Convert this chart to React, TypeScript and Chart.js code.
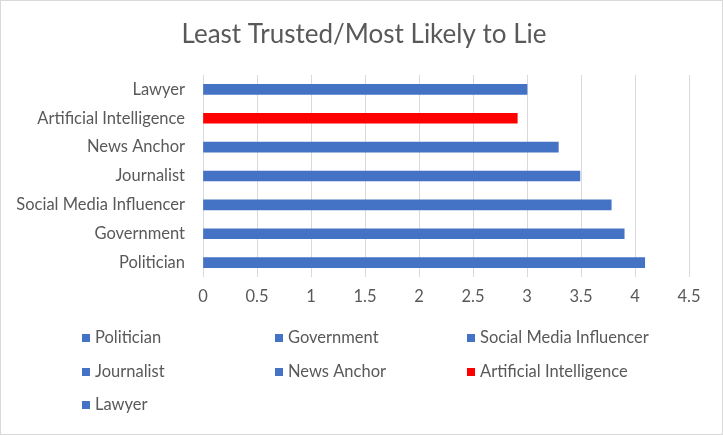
import React, { useEffect, useRef } from "react";
import { Chart, registerables } from "chart.js";

Chart.register(...registerables);

// Categories listed top to bottom as they appear on the axis
const categories = [
  "Lawyer",
  "Artificial Intelligence",
  "News Anchor",
  "Journalist",
  "Social Media Influencer",
  "Government",
  "Politician",
];
const scores = [3.0, 2.91, 3.29, 3.49, 3.78, 3.9, 4.09];
const barColors = ["#4472C4", "#FF0000", "#4472C4", "#4472C4", "#4472C4", "#4472C4", "#4472C4"];

// Legend order (three columns, row by row)
const legendOrder = [
  "Politician",
  "Government",
  "Social Media Influencer",
  "Journalist",
  "News Anchor",
  "Artificial Intelligence",
  "Lawyer",
];

const TITLE = "Least Trusted/Most Likely to Lie";
const FONT = "Lato, 'Open Sans', sans-serif";
const TEXT = "#595959";
const LABEL_SIZE = 16.5;

// Draws the frame, the centred title and a three-column legend
const decorations = {
  id: "decorations",
  afterDraw(chart: any) {
    const { ctx } = chart;
    ctx.save();
    ctx.strokeStyle = "#D9D9D9";
    ctx.lineWidth = 1;
    ctx.strokeRect(0.5, 0.5, chart.width - 1, chart.height - 1);

    ctx.fillStyle = TEXT;
    ctx.font = `26px ${FONT}`;
    ctx.textAlign = "center";
    ctx.textBaseline = "middle";
    ctx.fillText(TITLE, 364, 35);

    const colX = [82, 275, 467];
    const rowY = [338, 372, 405];
    ctx.font = `${LABEL_SIZE}px ${FONT}`;
    ctx.textAlign = "left";
    legendOrder.forEach((name, i) => {
      const x = colX[i % 3];
      const y = rowY[Math.floor(i / 3)];
      const idx = categories.indexOf(name);
      ctx.fillStyle = barColors[idx];
      ctx.fillRect(x, y - 4, 8, 8);
      ctx.fillStyle = TEXT;
      ctx.fillText(name, x + 13, y);
    });
    ctx.restore();
  },
};

export default function App() {
  const ref = useRef<HTMLCanvasElement | null>(null);

  useEffect(() => {
    if (!ref.current) return;
    const chart = new Chart(ref.current, {
      type: "bar",
      data: {
        labels: categories,
        datasets: [
          {
            label: "Score",
            data: scores,
            backgroundColor: barColors,
            barThickness: 10,
          },
        ],
      },
      options: {
        indexAxis: "y",
        animation: false,
        responsive: false,
        layout: { padding: { top: 75, right: 34, bottom: 125, left: 0 } },
        plugins: {
          legend: { display: false },
          tooltip: { enabled: false },
          title: { display: false },
        },
        scales: {
          x: {
            min: 0,
            max: 4.5,
            ticks: {
              stepSize: 0.5,
              color: TEXT,
              font: { family: FONT, size: LABEL_SIZE },
              padding: 10,
              callback: (v: any) => String(Number(v)),
            },
            grid: { color: "#D9D9D9", drawTicks: false },
            border: { display: false },
            afterFit(scale: any) {
              scale.height = 33;
            },
          },
          y: {
            ticks: {
              color: TEXT,
              font: { family: FONT, size: LABEL_SIZE },
              padding: 18,
            },
            grid: { display: false, drawTicks: false },
            border: { display: false },
            afterFit(scale: any) {
              scale.width = 203;
            },
          },
        },
      },
      plugins: [decorations],
    });
    return () => chart.destroy();
  }, []);

  return (
    <div style={{ position: "fixed", left: 0, top: 0, width: 723, height: 435, background: "#fff" }}>
      <canvas ref={ref} width={723} height={435} />
    </div>
  );
}
